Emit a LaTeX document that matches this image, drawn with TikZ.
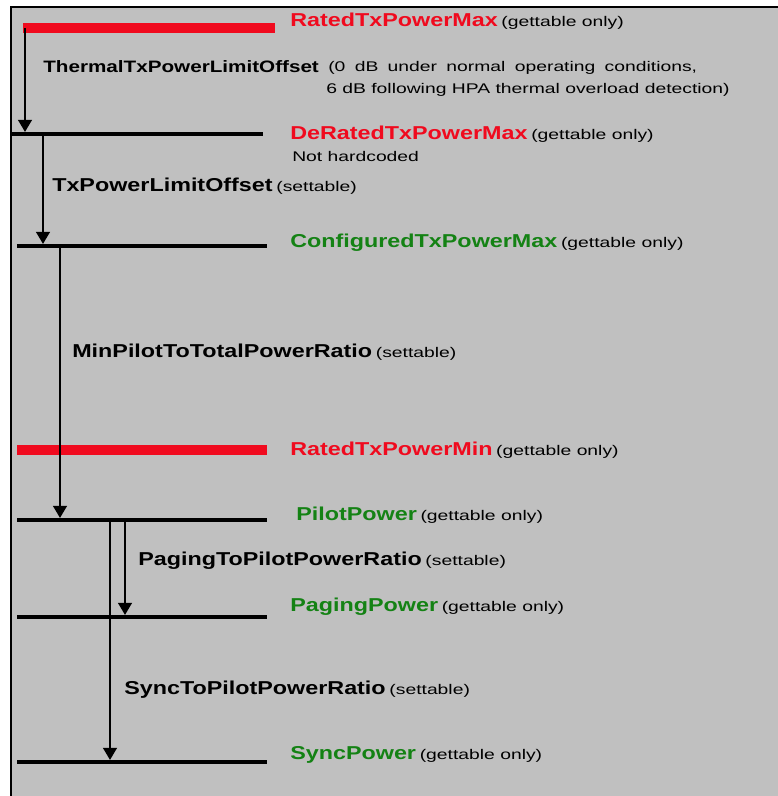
\documentclass[tikz,border=0pt]{standalone}
\usepackage{fontspec}
\setmainfont{Liberation Sans}
\newfontfamily\namefont[FakeStretch=1.25]{Liberation Sans}
\newfontfamily\notefont[FakeStretch=1.38]{Liberation Sans}
\usetikzlibrary{arrows.meta}
\definecolor{pwgray}{RGB}{192,192,192}
\definecolor{pwred}{RGB}{240,10,30}
\definecolor{pwgreen}{RGB}{20,130,20}

\newcommand{\pname}[2][14pt]{{\fontsize{#1}{16pt}\namefont\bfseries #2}}
\newcommand{\pnote}[1]{{\fontsize{10.5pt}{12.5pt}\notefont #1}}

\begin{document}
\begin{tikzpicture}[x=.75pt,y=-.75pt,
    level/.style={line width=3pt,black},
    limit/.style={line width=7.5pt,pwred},
    flow/.style={-{Triangle[width=10.5pt,length=9pt]},line width=.9pt},
    lbl/.style={anchor=west,inner sep=0pt}]
    \useasboundingbox (0,0) rectangle (778,796);
    \fill[pwgray] (11,7) rectangle (800,820);
    \draw[line width=1.6pt] (11,820)--(11,7)--(800,7);
    % power levels
    \coordinate (rmaxL) at (23,28);  \coordinate (rmaxR) at (275,28);
    \coordinate (dmaxL) at (11,134); \coordinate (dmaxR) at (263,134);
    \coordinate (cmaxL) at (17,246); \coordinate (cmaxR) at (267,246);
    \coordinate (rminL) at (17,450); \coordinate (rminR) at (267,450);
    \coordinate (pilL) at (17,520);  \coordinate (pilR) at (267,520);
    \coordinate (pagL) at (17,617);  \coordinate (pagR) at (267,617);
    \coordinate (synL) at (17,762);  \coordinate (synR) at (267,762);
    \draw[limit] (rmaxL)--(rmaxR);
    \draw[level] (dmaxL)--(dmaxR);
    \draw[level] (cmaxL)--(cmaxR);
    \draw[limit] (rminL)--(rminR);
    \draw[level] (pilL)--(pilR);
    \draw[level] (pagL)--(pagR);
    \draw[level] (synL)--(synR);
    % offsets
    \coordinate (o1) at (25,28);  \coordinate (o2) at (43,134); \coordinate (o3) at (60,246);
    \coordinate (o4) at (125,520); \coordinate (o5) at (110,520);
    \draw[flow] (o1)--([yshift=1.6pt]o1 |- dmaxL);
    \draw[flow] (o2)--([yshift=1.6pt]o2 |- cmaxL);
    \draw[flow] (o3)--([yshift=1.6pt]o3 |- pilL);
    \draw[flow] (o4)--([yshift=1.6pt]o4 |- pagL);
    \draw[flow] (o5)--([yshift=1.6pt]o5 |- synL);
    % labels
    \node[lbl] (rmax) at (290,21) {\pname{\color{pwred}RatedTxPowerMax} \pnote{(gettable only)}};
    \node[lbl] (thermal) at (43,67) {\pname[12.4pt]{ThermalTxPowerLimitOffset}};
    \node[lbl] (thermal1) at (328,68) {\pnote{\spaceskip=7pt (0 dB under normal operating conditions,}};
    \node[lbl] (thermal2) at (326,90) {\pnote{6 dB following HPA thermal overload detection)}};
    \node[lbl] (dmax) at (290,134) {\pname{\color{pwred}DeRatedTxPowerMax} \pnote{(gettable only)}};
    \node[lbl] (hard) at (292,156) {\pnote{Not hardcoded}};
    \node[lbl] (txoff) at (52,186) {\pname{TxPowerLimitOffset} \pnote{(settable)}};
    \node[lbl] (cmax) at (290,243) {\pname{\color{pwgreen}ConfiguredTxPowerMax} \pnote{(gettable only)}};
    \node[lbl] (minpil) at (72,352) {\pname{MinPilotToTotalPowerRatio} \pnote{(settable)}};
    \node[lbl] (rmin) at (290,450) {\pname{\color{pwred}RatedTxPowerMin} \pnote{(gettable only)}};
    \node[lbl] (pil) at (296,515) {\pname{\color{pwgreen}PilotPower} \pnote{(gettable only)}};
    \node[lbl] (pagrat) at (138,561) {\pname{PagingToPilotPowerRatio} \pnote{(settable)}};
    \node[lbl] (pag) at (290,607) {\pname{\color{pwgreen}PagingPower} \pnote{(gettable only)}};
    \node[lbl] (synrat) at (124,690) {\pname{SyncToPilotPowerRatio} \pnote{(settable)}};
    \node[lbl] (syn) at (290,755) {\pname{\color{pwgreen}SyncPower} \pnote{(gettable only)}};
\end{tikzpicture}
\end{document}
